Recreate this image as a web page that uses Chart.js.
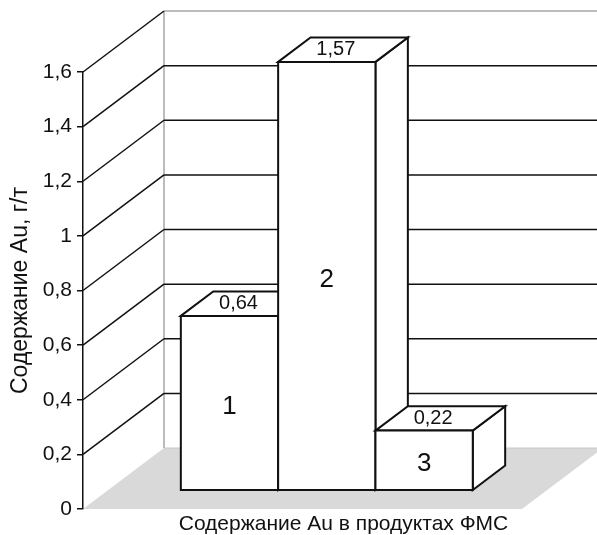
<!DOCTYPE html>
<html>
<head>
<meta charset="utf-8">
<script src="https://cdn.jsdelivr.net/npm/chart.js@4.4.1/dist/chart.umd.min.js"></script>
<style>
  html, body { margin: 0; padding: 0; background: #fff; }
  #wrap { width: 597px; height: 535px; }
</style>
</head>
<body>
<div id="wrap"><canvas id="c" width="597" height="535"></canvas></div>
<script>
// Gold content in flotation products
const categories = ['Содержание Au в продуктах ФМС'];
const seriesNames = ['1', '2', '3'];
const seriesValues = [0.64, 1.57, 0.22];
const yTickValues = [0, 0.2, 0.4, 0.6, 0.8, 1, 1.2, 1.4, 1.6];
const yTickLabels = ['0', '0,2', '0,4', '0,6', '0,8', '1', '1,2', '1,4', '1,6'];
const yTitle = 'Содержание Au, г/т';

const FONT = '"Liberation Sans", Arial, sans-serif';
// perspective depth vector of the plot box (front plane -> back wall)
const DEPTH_X = 81, DEPTH_Y = -61;
const BAR_FRONT = 0.3, BAR_BACK = 0.7;

function poly(ctx, pts, fill, stroke, lw) {
  ctx.beginPath();
  ctx.moveTo(pts[0][0], pts[0][1]);
  for (let i = 1; i < pts.length; i++) ctx.lineTo(pts[i][0], pts[i][1]);
  ctx.closePath();
  if (fill) { ctx.fillStyle = fill; ctx.fill(); }
  if (stroke) { ctx.strokeStyle = stroke; ctx.lineWidth = lw; ctx.lineJoin = 'miter'; ctx.stroke(); }
}
function line(ctx, x1, y1, x2, y2, color, lw) {
  ctx.beginPath();
  ctx.moveTo(x1, y1); ctx.lineTo(x2, y2);
  ctx.strokeStyle = color; ctx.lineWidth = lw; ctx.stroke();
}

// walls, floor and gridlines behind everything
const walls3d = {
  id: 'walls3d',
  beforeDraw(chart) {
    const { ctx, chartArea: a, scales } = chart;
    const y = scales.y;
    ctx.save();
    ctx.fillStyle = '#fff';
    ctx.fillRect(0, 0, chart.width, chart.height);

    const y0 = y.getPixelForValue(0);
    // floor
    poly(ctx, [[a.left, y0], [a.right, y0], [a.right + DEPTH_X, y0 + DEPTH_Y], [a.left + DEPTH_X, y0 + DEPTH_Y]], '#d9d9d9');
    line(ctx, a.left + DEPTH_X, y0 + DEPTH_Y, a.right + DEPTH_X, y0 + DEPTH_Y, '#c8c8c8', 1);

    // back wall border
    const yTop = y.getPixelForValue(yTickValues[yTickValues.length - 1]);
    line(ctx, a.left + DEPTH_X, yTop + DEPTH_Y, a.left + DEPTH_X, y0 + DEPTH_Y, '#a6a6a6', 1.5);

    yTickValues.forEach((v, i) => {
      if (v === 0) return;
      const py = y.getPixelForValue(v);
      const last = i === yTickValues.length - 1;
      // back wall gridline
      line(ctx, a.left + DEPTH_X, py + DEPTH_Y, a.right + DEPTH_X, py + DEPTH_Y, last ? '#a6a6a6' : '#111', 1.5);
      // side wall gridline
      line(ctx, a.left, py, a.left + DEPTH_X, py + DEPTH_Y, '#111', 1.5);
    });
    ctx.restore();
  }
};

// 3D boxes and their labels
const bars3d = {
  id: 'bars3d',
  afterDatasetsDraw(chart) {
    const { ctx } = chart;
    ctx.save();
    chart.data.datasets.forEach((ds, di) => {
      const meta = chart.getDatasetMeta(di);
      meta.data.forEach((el, j) => {
        const p = el.getProps(['x', 'y', 'base', 'width'], true);
        const fx = DEPTH_X * BAR_FRONT, fy = DEPTH_Y * BAR_FRONT;
        const dx = DEPTH_X * (BAR_BACK - BAR_FRONT), dy = DEPTH_Y * (BAR_BACK - BAR_FRONT);
        const l = p.x - p.width / 2 + fx, r = p.x + p.width / 2 + fx;
        const t = p.y + fy, b = p.base + fy;
        const lw = 2;
        // right side
        poly(ctx, [[r, t], [r + dx, t + dy], [r + dx, b + dy], [r, b]], '#fff', '#111', lw);
        // top
        poly(ctx, [[l, t], [l + dx, t + dy], [r + dx, t + dy], [r, t]], '#fff', '#111', lw);
        // front
        poly(ctx, [[l, t], [r, t], [r, b], [l, b]], '#fff', '#111', lw);

        const val = ds.data[j];
        ctx.fillStyle = '#111';
        ctx.textAlign = 'center';
        ctx.textBaseline = 'middle';
        ctx.font = '20px ' + FONT;
        ctx.fillText(String(val).replace('.', ','), (l + r) / 2 + 9, t - 12);
        ctx.font = '26px ' + FONT;
        ctx.fillText(ds.label, (l + r) / 2, (t + b) / 2 + 4);
      });
    });
    ctx.restore();
  }
};

new Chart(document.getElementById('c'), {
  type: 'bar',
  data: {
    labels: categories,
    datasets: seriesNames.map((name, i) => ({
      label: name,
      data: [seriesValues[i]],
      backgroundColor: 'rgba(0,0,0,0)',
      borderWidth: 0
    }))
  },
  options: {
    responsive: false,
    animation: false,
    events: [],
    layout: { padding: { top: 72, right: 75, left: 0, bottom: 0 } },
    datasets: { bar: { categoryPercentage: 0.665, barPercentage: 1 } },
    plugins: { legend: { display: false }, tooltip: { enabled: false } },
    scales: {
      x: {
        grid: { display: false, drawTicks: false },
        border: { display: false },
        ticks: {
          color: '#111', font: { family: FONT, size: 21 },
          padding: 3, labelOffset: 41, maxRotation: 0
        },
        afterFit(s) { s.height = 26; }
      },
      y: {
        min: 0, max: 1.6,
        afterBuildTicks(s) { s.ticks = yTickValues.map(v => ({ value: v })); },
        grid: { drawOnChartArea: false, drawTicks: true, tickLength: 6, color: '#111', lineWidth: 1.5 },
        border: { display: true, color: '#111', width: 1.5 },
        ticks: {
          color: '#111', font: { family: FONT, size: 21 }, padding: 5,
          callback(v, i) { return yTickLabels[yTickValues.indexOf(v)]; }
        },
        title: {
          display: true, text: yTitle, color: '#111',
          font: { family: FONT, size: 23 }, padding: { top: 7, bottom: 0 }
        },
        afterFit(s) { s.width = 83; }
      }
    }
  },
  plugins: [walls3d, bars3d]
});
</script>
</body>
</html>
